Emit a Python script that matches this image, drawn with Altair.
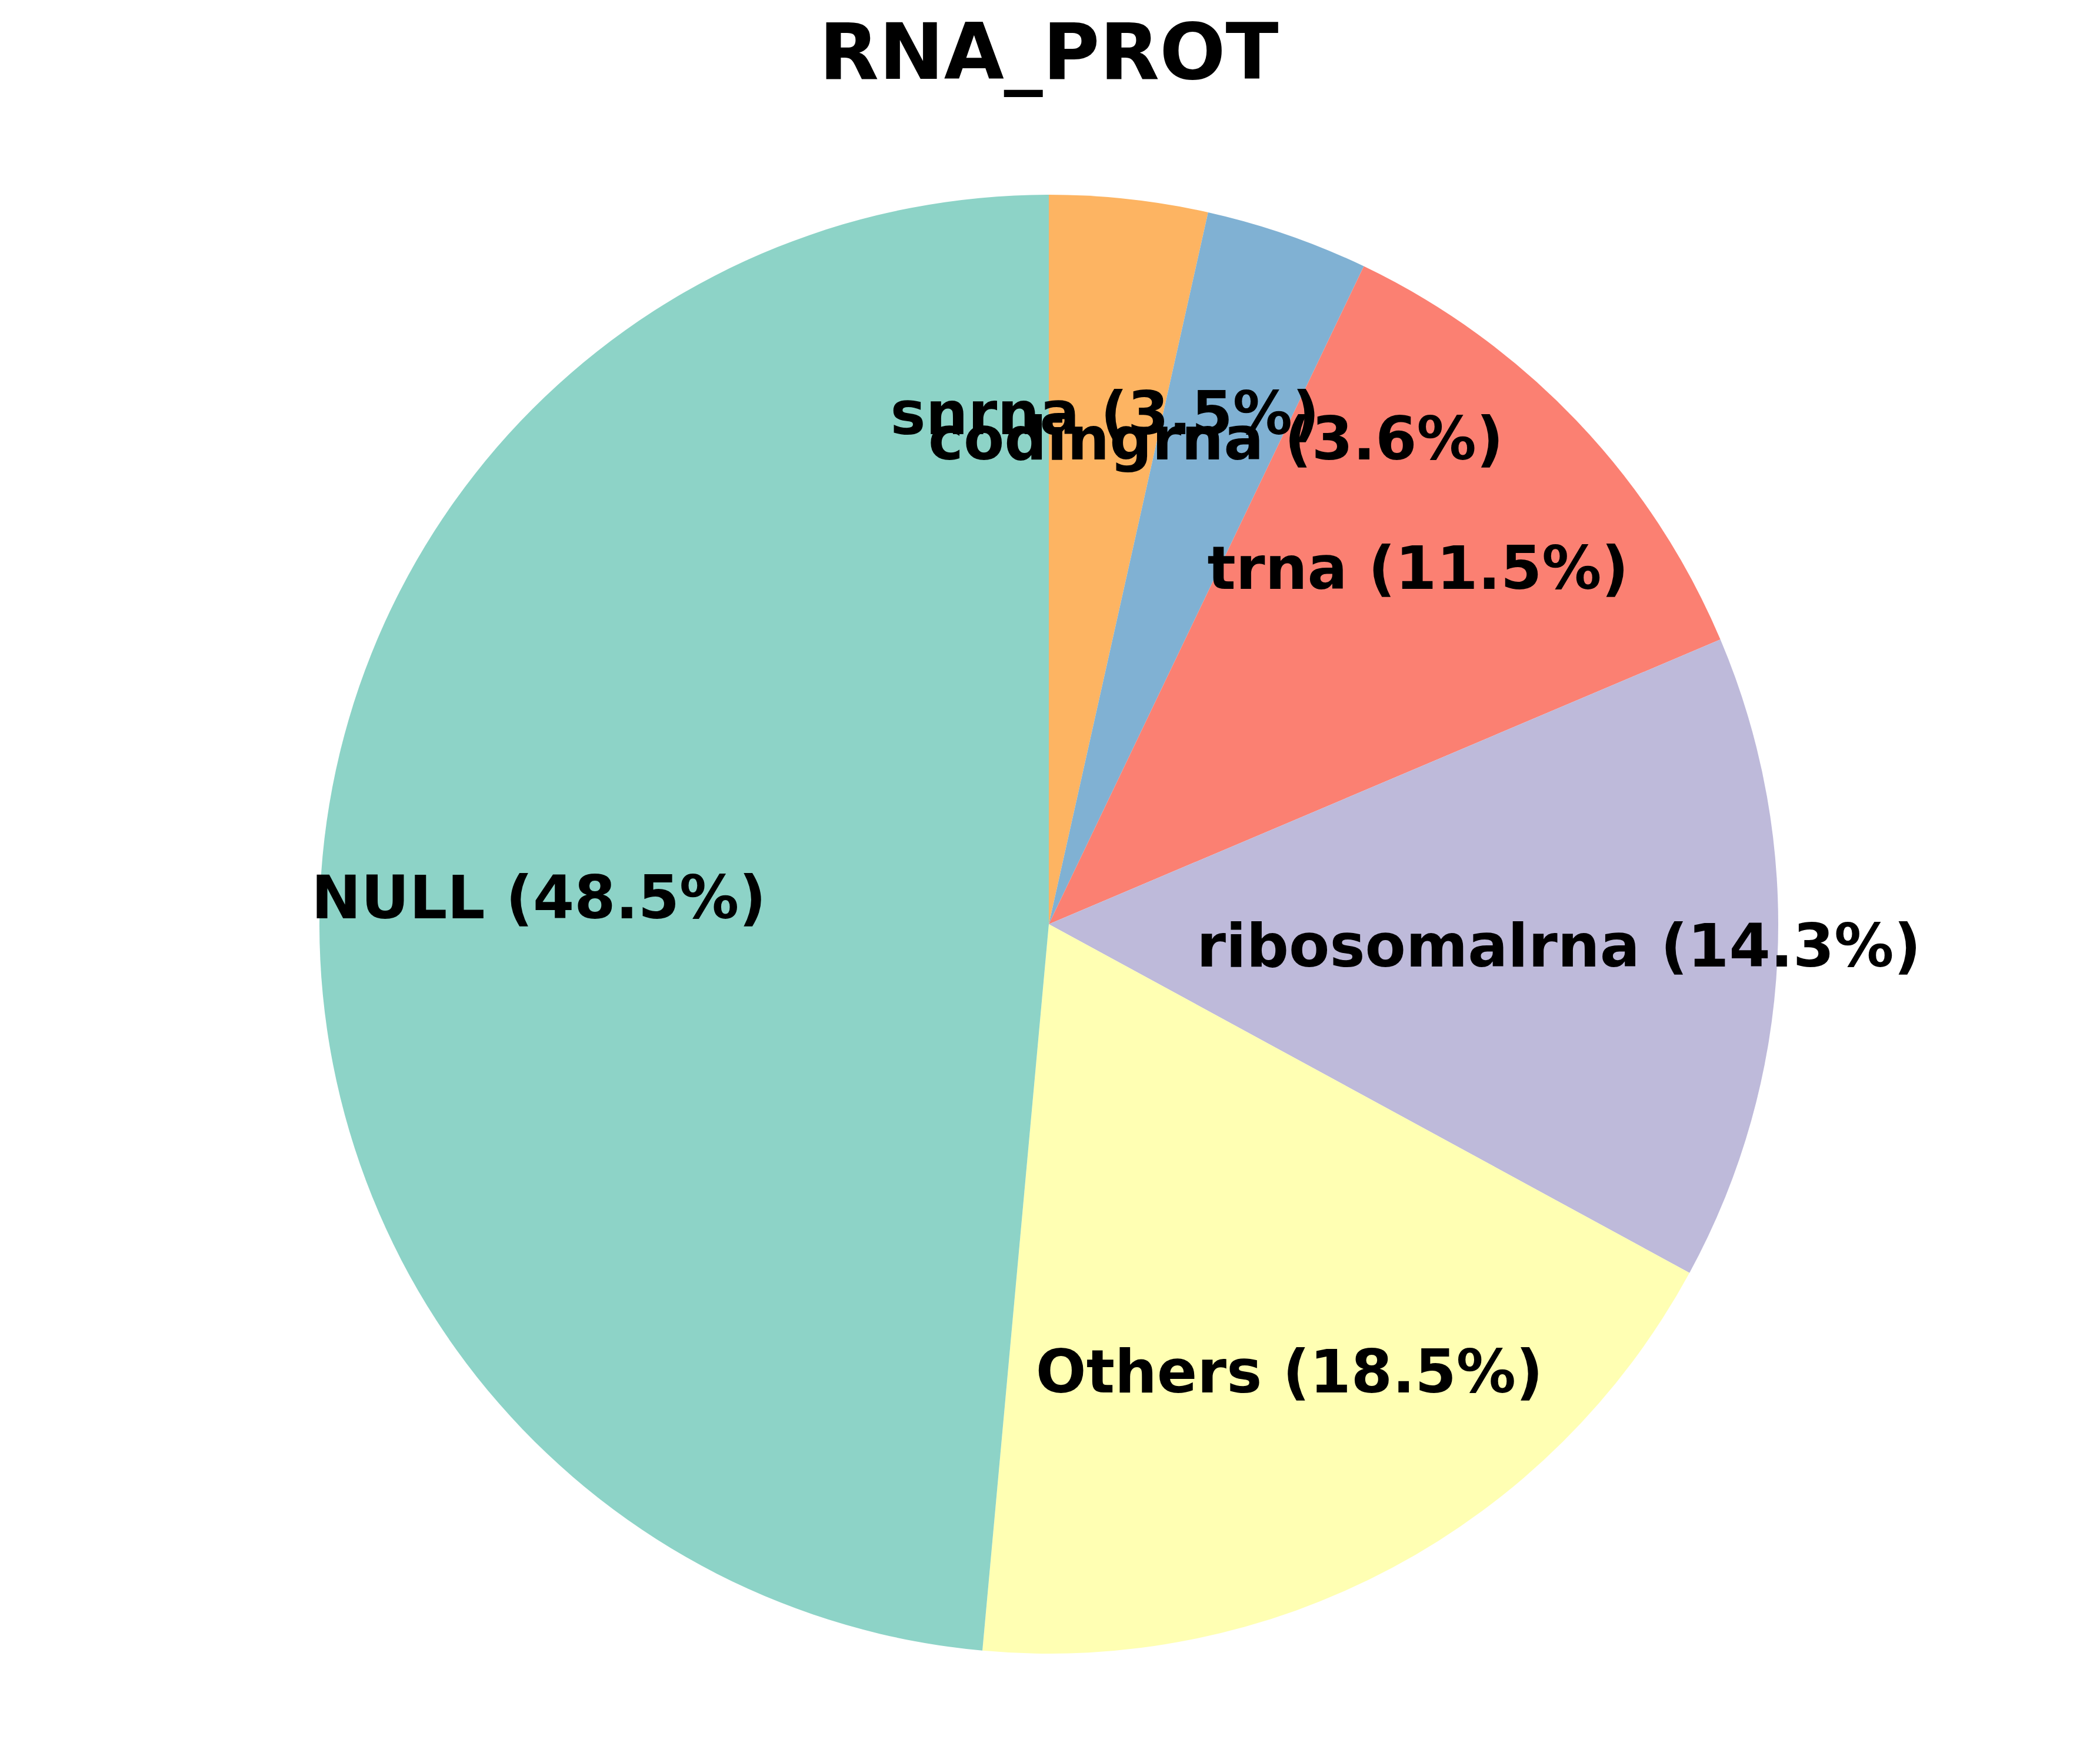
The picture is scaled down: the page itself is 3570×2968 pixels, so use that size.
import altair as alt
import pandas as pd

categories = ["snrna", "codingrna", "trna", "ribosomalrna", "Others", "NULL"]
percents = [3.5, 3.6, 11.5, 14.3, 18.5, 48.5]
colors = ["#fdb462", "#80b1d3", "#fb8072", "#bebada", "#ffffb3", "#8dd3c7"]
title_text = "RNA_PROT"

df = pd.DataFrame({
    "category": categories,
    "value": percents,
    "order": list(range(len(categories))),
    "label": [f"{c} ({p:.1f}%)" for c, p in zip(categories, percents)],
})

W, H = 3554, 2952
CX, CY, R = 1775, 1563, 1240
FONT = "DejaVu Sans"

base = alt.Chart(df).encode(
    theta=alt.Theta("value:Q", stack=True),
    order=alt.Order("order:Q", sort="ascending"),
)

pie = base.mark_arc(stroke=None).encode(
    x=alt.value(CX),
    y=alt.value(CY),
    radius=alt.value(R),
    color=alt.Color("category:N", scale=alt.Scale(domain=categories, range=colors), legend=None),
)

labels = base.mark_text(
    font=FONT, fontSize=101, fontWeight="bold", color="black",
    align="center", baseline="middle",
).encode(
    x=alt.value(CX),
    y=alt.value(CY),
    radius=alt.value(0.7 * R),
    text="label:N",
)

title = alt.Chart(pd.DataFrame({"t": [title_text]})).mark_text(
    font=FONT, fontSize=132, fontWeight="bold", color="black",
    align="center", baseline="alphabetic",
).encode(
    x=alt.value(CX),
    y=alt.value(126),
    text="t:N",
)

chart = alt.layer(pie, labels, title).properties(
    width=W, height=H,
    autosize=alt.AutoSizeParams(type="none"),
    padding=0,
).configure_view(stroke=None)

chart.save("out.html", embed_options={"renderer": "svg", "actions": False})
